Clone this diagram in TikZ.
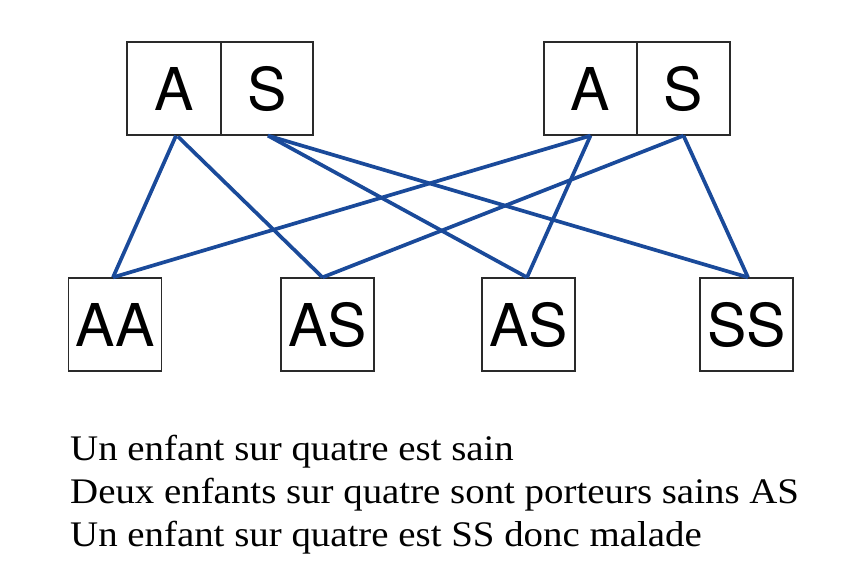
\documentclass[tikz,border=0pt]{standalone}
\usepackage{fontspec}
\setmainfont{Liberation Serif}
\newfontfamily\capfont[FakeStretch=1.08]{Liberation Serif}
\newfontfamily\boxfont{TeX Gyre Heros}
\definecolor{linkblue}{HTML}{1A4A9A}
\definecolor{boxgray}{HTML}{2A2A2A}
\begin{document}
\begin{tikzpicture}[x=1pt,y=-1pt,
  gbox/.style={draw=boxgray,line width=1.3pt,minimum width=93pt,minimum height=93pt,inner sep=0pt,font=\boxfont\fontsize{59}{59}\selectfont},
  link/.style={draw=linkblue,line width=3.7pt},
  caption/.style={anchor=base west,inner sep=0pt,font=\capfont\fontsize{36}{36}\selectfont}]
\useasboundingbox (0,0) rectangle (852,582);
\fill[white] (0,0) rectangle (852,582);
% parents
\node[gbox,minimum width=94pt] (pa1) at (174,88.5) {A};
\node[gbox,minimum width=92pt] (ps1) at (267,88.5) {S};
\node[gbox] (pa2) at (590.5,88.5) {A};
\node[gbox] (ps2) at (683.5,88.5) {S};
% children
\node[gbox] (caa) at (115,324.5) {AA};
\node[gbox] (cas1) at (327.5,324.5) {AS};
\node[gbox] (cas2) at (528.5,324.5) {AS};
\node[gbox] (css) at (746.5,324.5) {SS};
% links
\draw[link] ([xshift=2pt]pa1.south) -- ([xshift=-2pt]caa.north);
\draw[link] ([xshift=4pt,yshift=-1pt]pa1.south) -- ([xshift=-5pt]cas1.north);
\draw[link] ([xshift=1pt]ps1.south) -- ([xshift=-1.5pt]cas2.north);
\draw[link] ([xshift=1pt]ps1.south) -- ([xshift=1.5pt]css.north);
\draw[link] (pa2.south) -- ([xshift=-2pt]caa.north);
\draw[link] (pa2.south) -- ([xshift=-1.5pt]cas2.north);
\draw[link] (ps2.south) -- ([xshift=-5pt]cas1.north);
\draw[link] (ps2.south) -- ([xshift=1.5pt]css.north);
% caption
\node[caption] (t1) at (70,460) {Un enfant sur quatre est sain};
\node[caption] (t2) at (70,503) {Deux enfants sur quatre sont porteurs sains AS};
\node[caption] (t3) at (70,546) {Un enfant sur quatre est SS donc malade};
\end{tikzpicture}
\end{document}
